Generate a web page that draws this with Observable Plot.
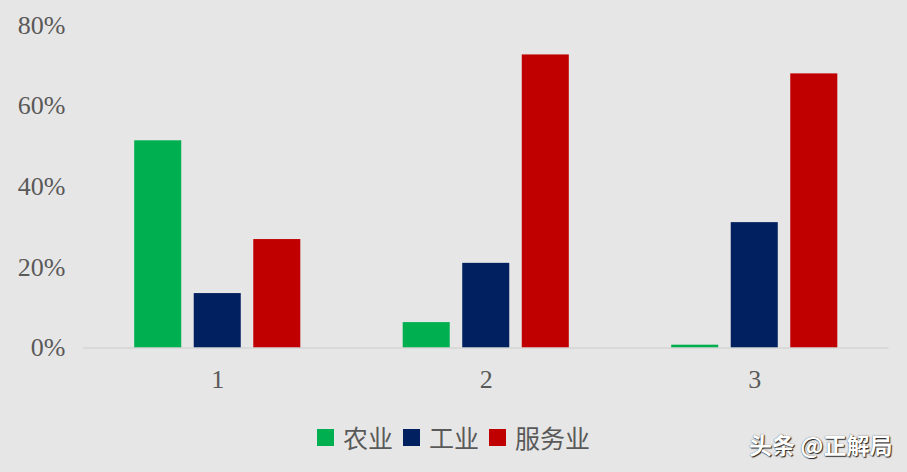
<!DOCTYPE html>
<html>
<head>
<meta charset="utf-8">
<script src="https://cdn.jsdelivr.net/npm/d3@7"></script>
<script src="https://cdn.jsdelivr.net/npm/@observablehq/plot@0.6"></script>
<style>
  html, body { margin: 0; padding: 0; }
  body { width: 907px; height: 472px; overflow: hidden; background: #e7e6e6; position: relative; }
  #chart svg { display: block; }
  #legend { position: absolute; left: 0; top: 422px; width: 907px; height: 30px; display: flex; justify-content: center; align-items: center;
    font-family: "Noto Sans CJK SC", sans-serif; font-size: 25px; color: #595959; }
  .item { display: flex; align-items: center; margin: 0 5px; }
  .sw { width: 17px; height: 17px; margin-right: 9px; }
  #wm { position: absolute; left: 749px; top: 432px; font-family: "Noto Sans CJK SC", sans-serif; font-size: 23px; line-height: 25px;
    font-weight: 700; color: #ffffff; text-shadow: 1px 1px 1px #222, 0 0 1px #444; white-space: nowrap; }
</style>
</head>
<body>
<div id="chart"></div>
<div id="legend"></div>
<div id="wm">头条 @正解局</div>
<script>
const categories = ["1", "2", "3"];
const series = ["农业", "工业", "服务业"];
const colors = ["#00b050", "#002060", "#c00000"];
const agriculture = [51.4, 6.3, 0.7];
const industry = [13.5, 21.0, 31.1];
const services = [26.9, 72.7, 68.0];
const yTicks = [0, 20, 40, 60, 80];

const seriesValues = [agriculture, industry, services];
const data = [];
categories.forEach((c, i) => {
  series.forEach((s, j) => data.push({category: c, series: s, value: seriesValues[j][i]}));
});

const chart = Plot.plot({
  width: 907,
  height: 410,
  marginLeft: 83,
  marginRight: 18.5,
  marginTop: 25,
  marginBottom: 62.5,
  style: {background: "transparent", fontFamily: "'Liberation Serif', 'Times New Roman', serif", fontSize: "26px", color: "#595959"},
  fx: {domain: categories, padding: 0, round: false, label: null},
  x: {domain: series, paddingInner: 0.21, paddingOuter: 0.86, round: false, axis: null},
  y: {domain: [0, 80], label: null},
  color: {domain: series, range: colors},
  marks: [
    Plot.axisY({ticks: yTicks, tickFormat: d => d + "%", tickSize: 0, tickPadding: 18, label: null, fontSize: 26}),
    Plot.axisFx({anchor: "bottom", tickSize: 0, tickPadding: 22, label: null, fontSize: 26}),
    Plot.barY(data, {fx: "category", x: "series", y: "value", fill: "series"}),
    Plot.ruleY([0], {stroke: "#cccccc", strokeWidth: 1})
  ]
});
document.getElementById("chart").appendChild(chart);

const legend = document.getElementById("legend");
series.forEach((s, j) => {
  const item = document.createElement("div");
  item.className = "item";
  const sw = document.createElement("div");
  sw.className = "sw";
  sw.style.background = colors[j];
  const t = document.createElement("span");
  t.textContent = s;
  item.appendChild(sw);
  item.appendChild(t);
  legend.appendChild(item);
});
</script>
</body>
</html>
